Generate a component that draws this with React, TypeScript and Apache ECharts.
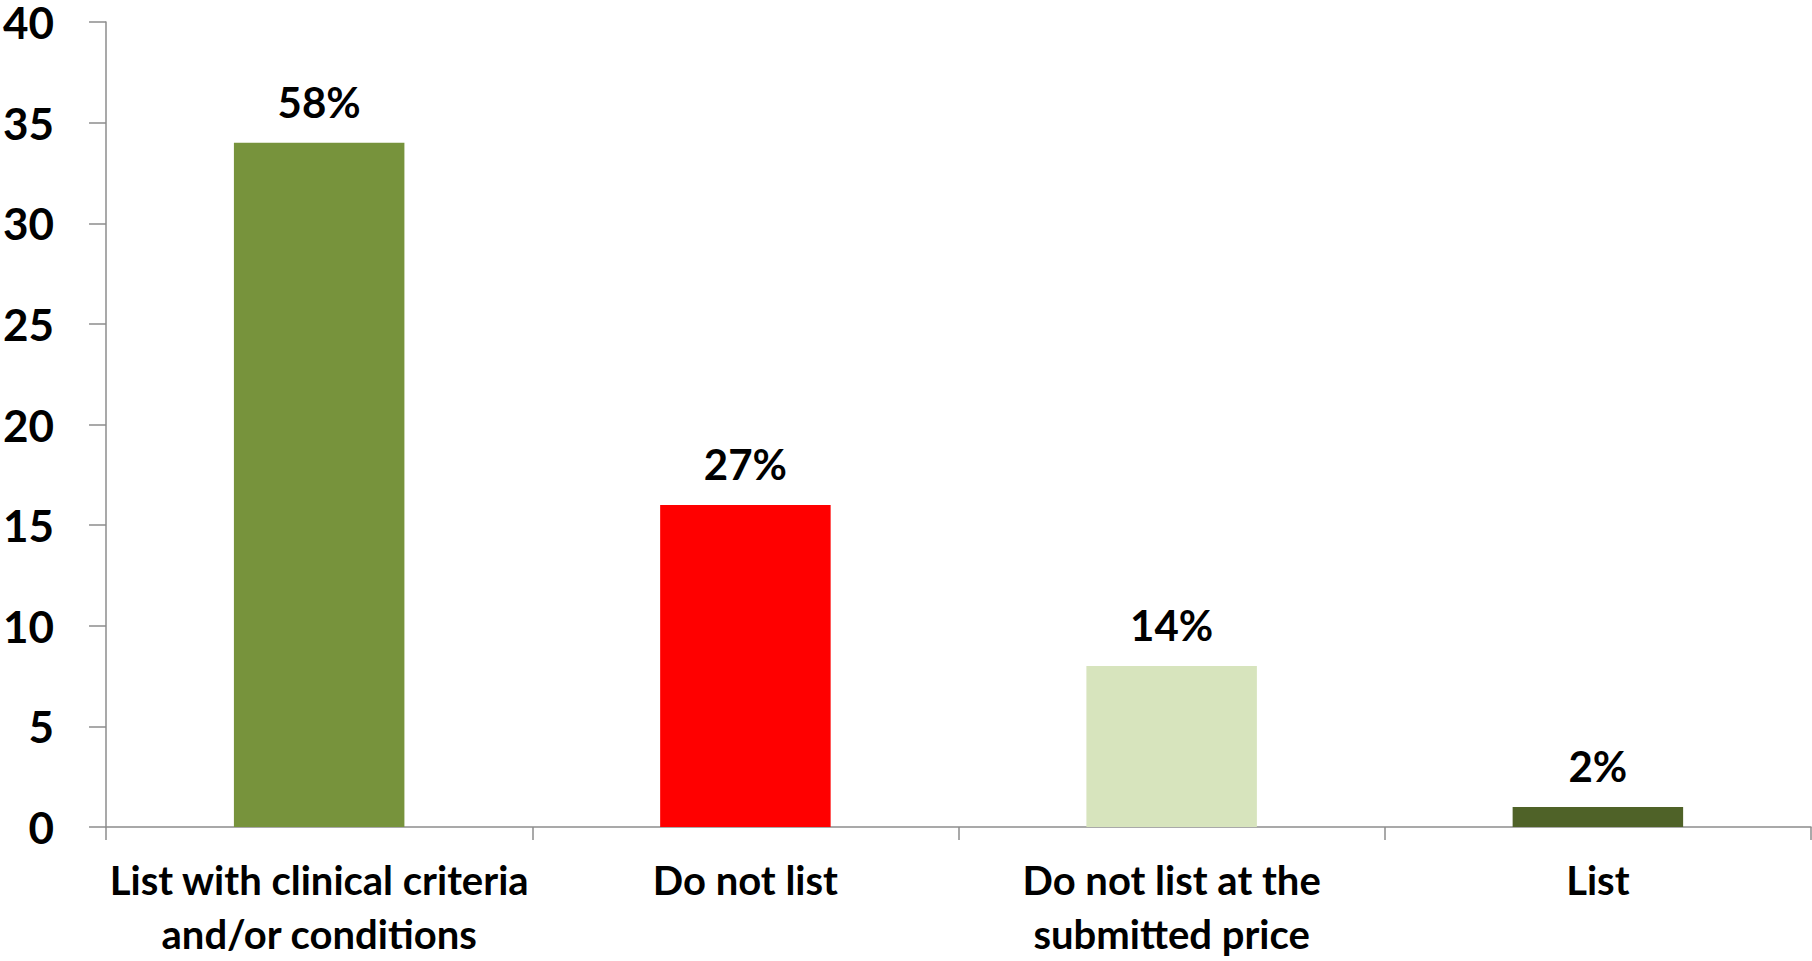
import React, { useEffect, useRef } from "react";
import * as echarts from "echarts";

const categories = [
  "List with clinical criteria\nand/or conditions",
  "Do not list",
  "Do not list at the\nsubmitted price",
  "List",
];
const counts = [34, 16, 8, 1];
const percentLabels = ["58%", "27%", "14%", "2%"];
const barColors = ["#77933C", "#FF0000", "#D7E4BD", "#4F6228"];

export default function App() {
  const ref = useRef<HTMLDivElement>(null);
  useEffect(() => {
    if (!ref.current) return;
    const chart = echarts.init(ref.current, undefined, { renderer: "svg" });
    const font = "Lato, 'Open Sans', sans-serif";
    chart.setOption({
      animation: false,
      grid: { left: 106, right: 1, top: 20, bottom: 128, containLabel: false },
      xAxis: {
        type: "category",
        data: categories,
        axisLine: { lineStyle: { color: "#8C8C8C", width: 1.5 } },
        axisTick: { show: true, length: 13, alignWithLabel: false, lineStyle: { color: "#8C8C8C", width: 1.5 } },
        axisLabel: {
          color: "#000",
          fontFamily: font,
          fontWeight: "bold",
          fontSize: 40,
          lineHeight: 54,
          margin: 26,
          interval: 0,
        },
      },
      yAxis: {
        type: "value",
        min: 0,
        max: 40,
        interval: 5,
        splitLine: { show: false },
        axisLine: { show: true, lineStyle: { color: "#8C8C8C", width: 1.5 } },
        axisTick: { show: true, length: 17, lineStyle: { color: "#8C8C8C", width: 1.5 } },
        axisLabel: {
          color: "#000",
          fontFamily: font,
          fontWeight: "bold",
          fontSize: 44,
          lineHeight: 36,
          margin: 52,
        },
      },
      series: [
        {
          type: "bar",
          barWidth: "40%",
          data: counts.map((v, i) => ({ value: v, itemStyle: { color: barColors[i] } })),
          label: {
            show: true,
            position: "top",
            distance: 20,
            color: "#000",
            fontFamily: font,
            fontWeight: "bold",
            fontSize: 42,
            formatter: (p: any) => percentLabels[p.dataIndex],
          },
        },
      ],
    });
    return () => chart.dispose();
  }, []);
  return (
    <div
      ref={ref}
      style={{ position: "fixed", left: 0, top: 0, width: 1812, height: 961, background: "#fff" }}
    />
  );
}
